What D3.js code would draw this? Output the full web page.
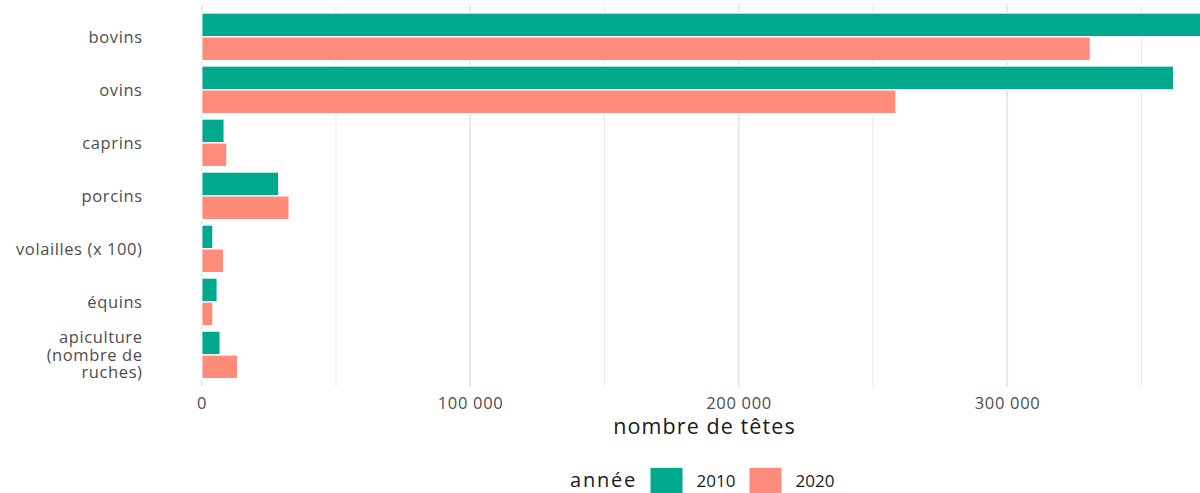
<!DOCTYPE html>
<html><head><meta charset="utf-8">
<script src="https://cdn.jsdelivr.net/npm/d3@7"></script>
<style>
html,body{margin:0;padding:0;background:#fff;}
svg{display:block;font-family:"Open Sans",sans-serif;}
</style></head>
<body><svg id="chart" width="1200" height="493"></svg>
<script>
const categories = ["bovins","ovins","caprins","porcins","volailles (x 100)","équins","apiculture (nombre de ruches)"];
const categoryLines = [["bovins"],["ovins"],["caprins"],["porcins"],["volailles (x 100)"],["équins"],["apiculture","(nombre de","ruches)"]];
const years = ["2010","2020"];
const values2010 = [382000, 362000, 8400, 28700, 4200, 5800, 6900];
const values2020 = [331000, 258600, 9400, 32600, 8200, 4200, 13400];
const xTicks = [0, 100000, 200000, 300000];
const xMinor = [50000, 150000, 250000, 350000];
const colors = ["#00A98B", "#FF8B7B"];

const svg = d3.select("#chart");
const panelTop = 5, panelBottom = 386.7;
const x = d3.scaleLinear().domain([0, 100000]).range([201.7, 470.2]);
// ggplot-like discrete scale: 0.6 units expansion each side
const y = d3.scalePoint().domain(categories)
  .range([panelTop, panelBottom]).padding(0.6);
const step = y.step();
const sub = d3.scaleBand().domain(years).range([-0.45 * step, 0.45 * step]);

const fmt = v => d3.format(",")(v).replace(/,/g, " ");

// gridlines
const g = svg.append("g");
g.selectAll("line.minor").data(xMinor).join("line")
  .attr("x1", d => x(d)).attr("x2", d => x(d))
  .attr("y1", panelTop).attr("y2", panelBottom)
  .attr("stroke", "#ebebeb").attr("stroke-width", 1.2);
g.selectAll("line.major").data(xTicks).join("line")
  .attr("x1", d => x(d)).attr("x2", d => x(d))
  .attr("y1", panelTop).attr("y2", panelBottom)
  .attr("stroke", "#e6e6e6").attr("stroke-width", 1.8);

// bars
const data = [];
categories.forEach((c, i) => {
  data.push({c, year: "2010", v: values2010[i]});
  data.push({c, year: "2020", v: values2020[i]});
});
svg.append("g").selectAll("rect").data(data).join("rect")
  .attr("x", x(0))
  .attr("y", d => y(d.c) + sub(d.year))
  .attr("width", d => x(d.v) - x(0))
  .attr("height", sub.bandwidth())
  .attr("fill", d => colors[years.indexOf(d.year)])
  .attr("stroke", "#ffffff").attr("stroke-width", 1.4);

// y labels
const yl = svg.append("g");
categories.forEach((c, i) => {
  const lines = categoryLines[i];
  const lh = 17.5;
  const t = yl.append("text")
    .attr("text-anchor", "end").attr("letter-spacing", 0.6)
    .attr("fill", "#4d4d4d").attr("font-size", 16.5);
  lines.forEach((ln, j) => {
    t.append("tspan").attr("x", 142.6)
      .attr("y", y(c) + (j - (lines.length - 1) / 2) * lh + 6)
      .text(ln);
  });
});

// x tick labels
svg.append("g").selectAll("text").data(xTicks).join("text")
  .attr("x", d => x(d) + 0.35).attr("y", 408.5)
  .attr("text-anchor", "middle").attr("fill", "#4d4d4d").attr("font-size", 16.5)
  .attr("letter-spacing", 0.7)
  .text(d => fmt(d));

// x title
svg.append("text").attr("x", 704.5).attr("y", 433.5)
  .attr("text-anchor", "middle").attr("fill", "#1a1a1a").attr("font-size", 21.5)
  .attr("letter-spacing", 1.1)
  .text("nombre de têtes");

// legend
const lg = svg.append("g");
lg.append("text").attr("x", 570).attr("y", 486.5)
  .attr("fill", "#1a1a1a").attr("font-size", 20).attr("letter-spacing", 1.8).text("année");
const keyX = [650, 749], labX = [696.5, 795.5];
years.forEach((yr, i) => {
  lg.append("rect").attr("x", keyX[i]).attr("y", 467.3).attr("width", 33).attr("height", 33)
    .attr("fill", colors[i]).attr("stroke", "#ffffff").attr("stroke-width", 1);
  lg.append("text").attr("x", labX[i]).attr("y", 486.5)
    .attr("fill", "#1a1a1a").attr("font-size", 17).text(yr);
});
</script></body></html>
